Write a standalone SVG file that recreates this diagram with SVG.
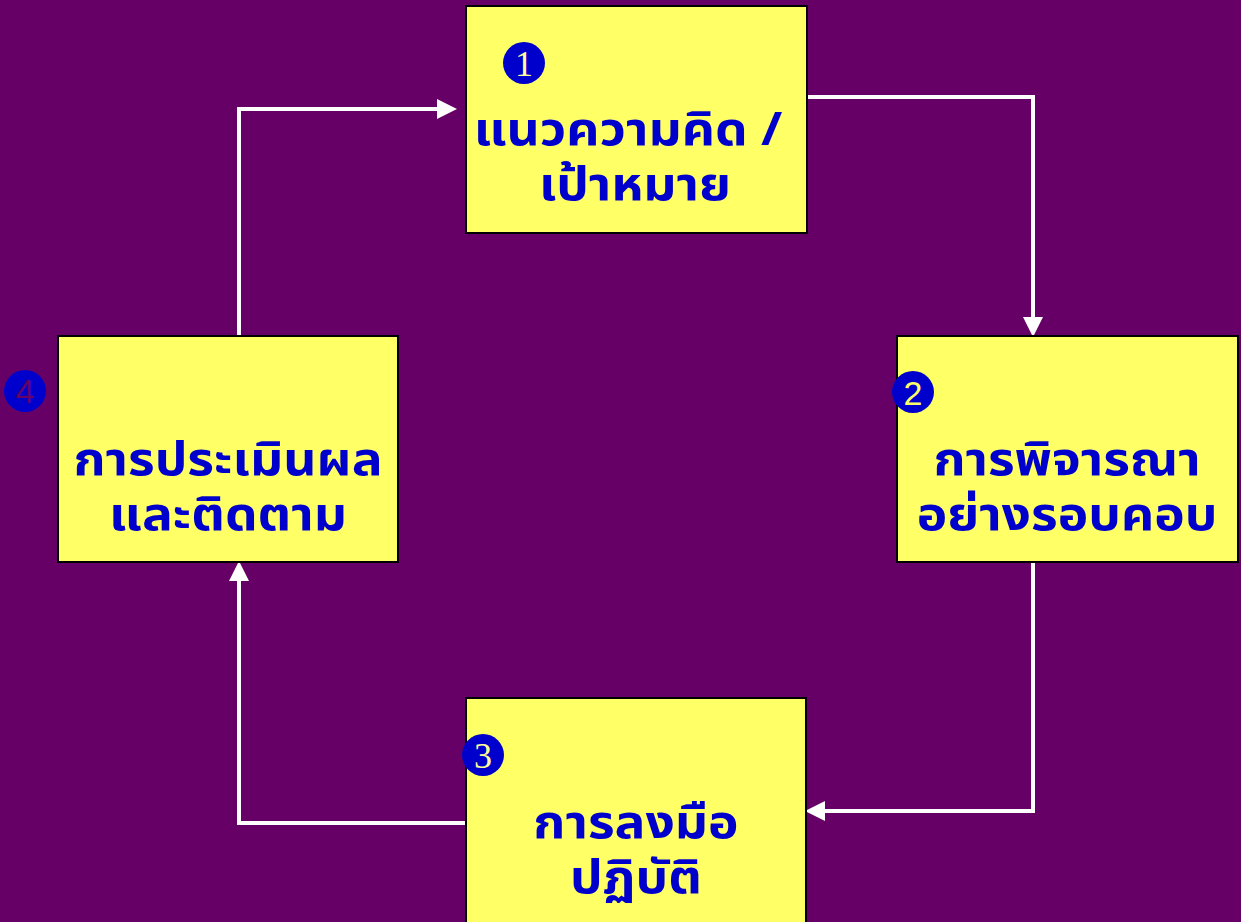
<svg xmlns="http://www.w3.org/2000/svg" width="1241" height="922" viewBox="0 0 1241 922">
<style>
.box{fill:#FFFF66;stroke:#000;stroke-width:2}
.lbl{font-family:"Noto Sans Thai","Noto Sans","DejaVu Sans",sans-serif;font-weight:bold;font-size:46px;fill:#0000CC;text-anchor:middle}
.num{font-family:"Liberation Serif","DejaVu Serif",serif;font-size:36px;text-anchor:middle}
.conn{fill:none;stroke:#fff;stroke-width:4;marker-end:url(#ah)}
</style>
<defs>
<marker id="ah" markerWidth="5" markerHeight="5" refX="4" refY="2.5" orient="auto" markerUnits="strokeWidth">
<path d="M0,0 L5,2.5 L0,5 z" fill="#fff"/>
</marker>
</defs>
<rect width="1241" height="922" fill="#660066"/>
<g id="connectors">
<path class="conn" d="M807,97 H1033 V333"/>
<path class="conn" d="M1033,562 V811 H809"/>
<path class="conn" d="M466,823 H239 V565"/>
<path class="conn" d="M239,336 V109 H453"/>
</g>
<g id="n1">
<rect class="box" x="466" y="6" width="341" height="227"/>
<circle cx="524" cy="63" r="21" fill="#0000CC"/>
<text class="num" x="524" y="76" fill="#FFFF99">1</text>
<text class="lbl" transform="translate(628,145) scale(1.12,1)">แนวความคิด /</text>
<text class="lbl" transform="translate(635,200) scale(1.12,1)">เป้าหมาย</text>
</g>
<g id="n2">
<rect class="box" x="897" y="336" width="341" height="226"/>
<circle cx="913" cy="392" r="21" fill="#0000CC"/>
<text class="num" x="913" y="405" fill="#FFFF66" style="font-family:'Liberation Sans',sans-serif;font-size:34px">2</text>
<text class="lbl" transform="translate(1067,475) scale(1.12,1)">การพิจารณา</text>
<text class="lbl" transform="translate(1067,530) scale(1.12,1)">อย่างรอบคอบ</text>
</g>
<g id="n3">
<rect class="box" x="466" y="698" width="340" height="230"/>
<circle cx="483" cy="755" r="21" fill="#0000CC"/>
<text class="num" x="483" y="768" fill="#FFFF99">3</text>
<text class="lbl" transform="translate(636,838) scale(1.12,1)">การลงมือ</text>
<text class="lbl" transform="translate(636,893) scale(1.12,1)">ปฏิบัติ</text>
</g>
<g id="n4">
<rect class="box" x="58" y="336" width="340" height="226"/>
<circle cx="25" cy="391" r="21" fill="#0000CC"/>
<text class="num" x="25" y="403" fill="#660066" style="font-family:'Liberation Sans',sans-serif;font-size:34px">4</text>
<text class="lbl" transform="translate(228,475) scale(1.12,1)">การประเมินผล</text>
<text class="lbl" transform="translate(228,530) scale(1.12,1)">และติดตาม</text>
</g>
</svg>
